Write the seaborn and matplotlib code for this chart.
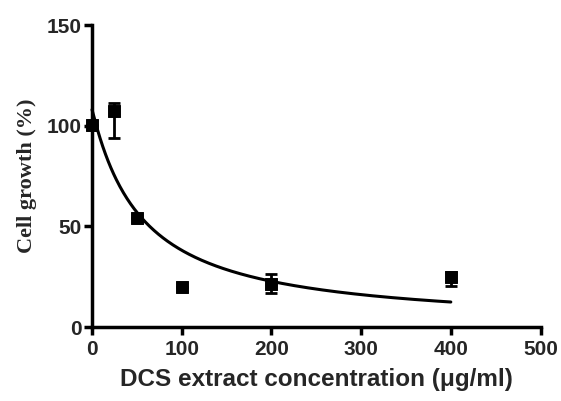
import numpy as np
import pandas as pd
import seaborn as sns
import matplotlib.pyplot as plt

# measured points (concentration in ug/ml, growth in %)
conc = [0, 25, 50, 100, 200, 400]
growth = [100.3, 107.5, 54, 20, 21.6, 24.6]
err_low = [0, 13.5, 0, 0, 4.5, 4.2]
err_high = [0, 3.8, 0, 0, 4.5, 2.7]

# fitted dose-response curve parameters
fit_top = 108
fit_ic50 = 55.7
fit_hill = 1.035
fit_xmax = 400

sns.set_theme(style="ticks")
plt.rcParams['font.family'] = ['Liberation Sans', 'DejaVu Sans']

fig = plt.figure(figsize=(5.61, 4.01), dpi=100)
ax = fig.add_axes([0.164, 0.1845, 0.7995, 0.753])

xfit = np.linspace(0, fit_xmax, 400)
yfit = fit_top / (1 + (xfit / fit_ic50) ** fit_hill)
curve = pd.DataFrame({'x': xfit, 'y': yfit})
sns.lineplot(data=curve, x='x', y='y', color='black', lw=2.2, ax=ax, clip_on=False)

ax.errorbar(conc, growth, yerr=[err_low, err_high], fmt='none', ecolor='black',
            elinewidth=2, capsize=4, capthick=2, clip_on=False, zorder=3)
pts = pd.DataFrame({'conc': conc, 'growth': growth})
sns.scatterplot(data=pts, x='conc', y='growth', marker='s', s=72, color='black',
                edgecolor='black', ax=ax, clip_on=False, zorder=4)

ax.set_xlim(0, 500)
ax.set_ylim(0, 150)
ax.set_xticks([0, 100, 200, 300, 400, 500])
ax.set_yticks([0, 50, 100, 150])
sns.despine(ax=ax)
for s in ['left', 'bottom']:
    ax.spines[s].set_linewidth(2.5)
    ax.spines[s].set_color('black')
ax.tick_params(width=2.5, length=5.5, labelsize=15, color='black')
ax.tick_params(axis='x', pad=4)
ax.tick_params(axis='y', pad=2)
for lab in ax.get_xticklabels() + ax.get_yticklabels():
    lab.set_fontweight('bold')

ax.set_xlabel('DCS extract concentration (\u03bcg/ml)', fontsize=17.5, fontweight='bold')
ax.xaxis.set_label_coords(0.5, -0.135)
ax.set_ylabel('Cell growth (%)', fontsize=16, fontweight='bold',
              family=['Liberation Serif', 'DejaVu Serif'])
ax.yaxis.set_label_coords(-0.123, 0.5)

fig.savefig('out.png', dpi=100)
